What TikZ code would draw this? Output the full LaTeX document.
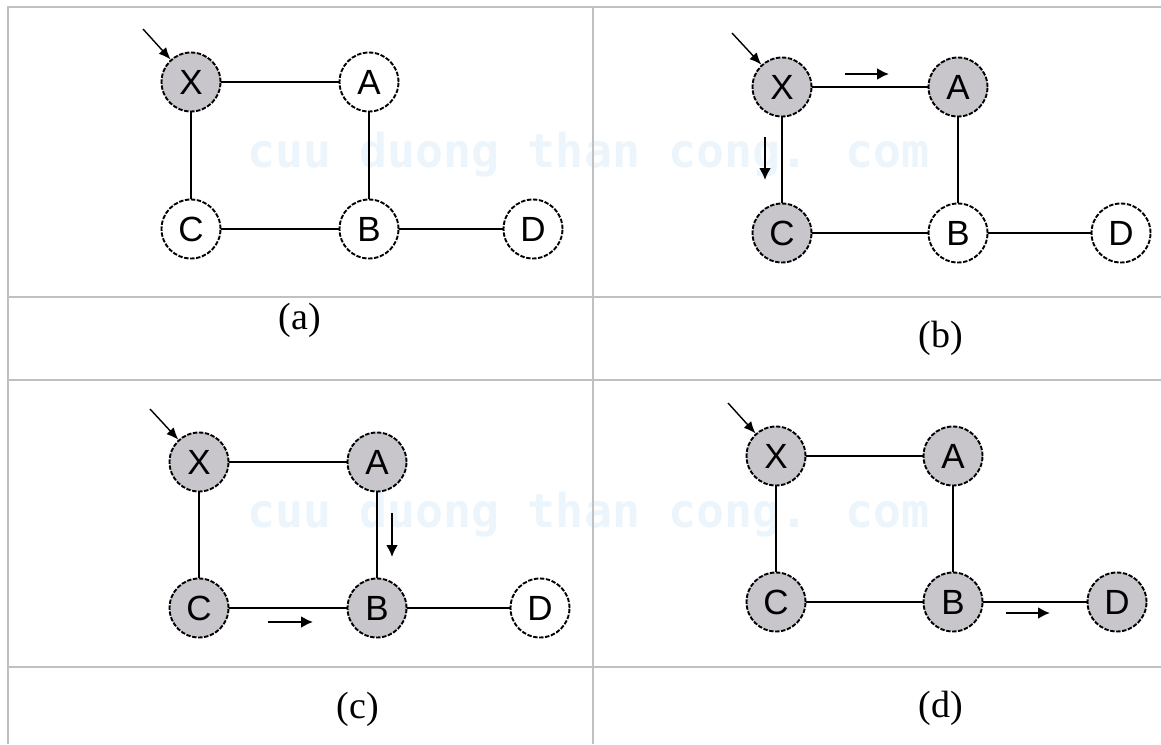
\documentclass[tikz,border=0pt]{standalone}
\usepackage{fontspec}
\setmainfont{Liberation Serif}
\setsansfont{Liberation Sans}
\newfontfamily\wmfont{DejaVu Sans Mono}
\usetikzlibrary{arrows.meta}
\definecolor{visited}{RGB}{200,198,203}
\definecolor{gridgray}{RGB}{192,192,192}
\definecolor{wmblue}{RGB}{235,245,251}
\tikzset{
  vtx/.style={circle,draw,fill=white,dash pattern=on 2.2pt off 0.8pt,line width=0.95pt,
    minimum size=29.5pt,inner sep=0pt,font=\sffamily\fontsize{17.5}{17.5}\selectfont},
  grayv/.style={fill=visited},
  link/.style={line width=1.1pt},
  entry/.style={-{Latex[length=6pt,width=5pt]},line width=0.7pt},
  moving/.style={-{Latex[length=6pt,width=6pt]},line width=1.1pt},
  gridline/.style={draw=gridgray,line width=1.3pt},
  sublabel/.style={font=\fontsize{19}{19}\selectfont},
  wmark/.style={text=wmblue,font=\wmfont\bfseries\fontsize{23.3}{24}\selectfont,
    anchor=base west,inner sep=0pt}
}
\begin{document}
\begin{tikzpicture}[x=0.5pt,y=-0.5pt]
\useasboundingbox (0,0) rectangle (1161,744);
% watermark
\node[wmark] (wm1) at (247,167) {cuu duong than cong. com};
\node[wmark] (wm2) at (247,527) {cuu duong than cong. com};
% table
\draw[gridline] (8,744) -- (8,7) -- (1161,7);
\draw[gridline] (593,7) -- (593,744);
\foreach \y in {297,380,667}{\draw[gridline] (8,\y) -- (1161,\y);}
% (a)
\node[vtx,grayv] (Xa) at (191,82) {X};
\node[vtx] (Aa) at (369,82) {A};
\node[vtx] (Ca) at (191,229) {C};
\node[vtx] (Ba) at (369,229) {B};
\node[vtx] (Da) at (533,229) {D};
\coordinate (ina) at (143,29);
\node[sublabel] (capa) at (300,320) {(a)};
% (b)
\node[vtx,grayv] (Xb) at (782,87) {X};
\node[vtx,grayv] (Ab) at (958,87) {A};
\node[vtx,grayv] (Cb) at (782,233) {C};
\node[vtx] (Bb) at (958,233) {B};
\node[vtx] (Db) at (1121,233) {D};
\coordinate (inb) at (732,33);
\node[sublabel] (capb) at (941,338) {(b)};
% (c)
\node[vtx,grayv] (Xc) at (199,462) {X};
\node[vtx,grayv] (Ac) at (377,462) {A};
\node[vtx,grayv] (Cc) at (199,608) {C};
\node[vtx,grayv] (Bc) at (377,608) {B};
\node[vtx] (Dc) at (540,608) {D};
\coordinate (inc) at (150,409);
\node[sublabel] (capc) at (358,709) {(c)};
% (d)
\node[vtx,grayv] (Xd) at (776,456) {X};
\node[vtx,grayv] (Ad) at (953,456) {A};
\node[vtx,grayv] (Cd) at (776,602) {C};
\node[vtx,grayv] (Bd) at (953,602) {B};
\node[vtx,grayv] (Dd) at (1117,602) {D};
\coordinate (ind) at (728,403);
\node[sublabel] (capd) at (941,708) {(d)};
% edges and start arrows
\foreach \p in {a,b,c,d}{
  \foreach \u/\v in {X/A,X/C,A/B,C/B,B/D}{\draw[link] (\u\p) -- (\v\p);}
  \draw[entry] (in\p) -- (X\p);
}
% search steps
\coordinate (mb1) at (845,74);  \coordinate (mb2) at (889,74);
\coordinate (mb3) at (765,137); \coordinate (mb4) at (765,180);
\coordinate (mc1) at (392,513); \coordinate (mc2) at (392,557);
\coordinate (mc3) at (268,622); \coordinate (mc4) at (313,622);
\coordinate (md1) at (1006,613); \coordinate (md2) at (1050,613);
\draw[moving] (mb1) -- (mb2);
\draw[moving] (mb3) -- (mb4);
\draw[moving] (mc1) -- (mc2);
\draw[moving] (mc3) -- (mc4);
\draw[moving] (md1) -- (md2);
\end{tikzpicture}
\end{document}
